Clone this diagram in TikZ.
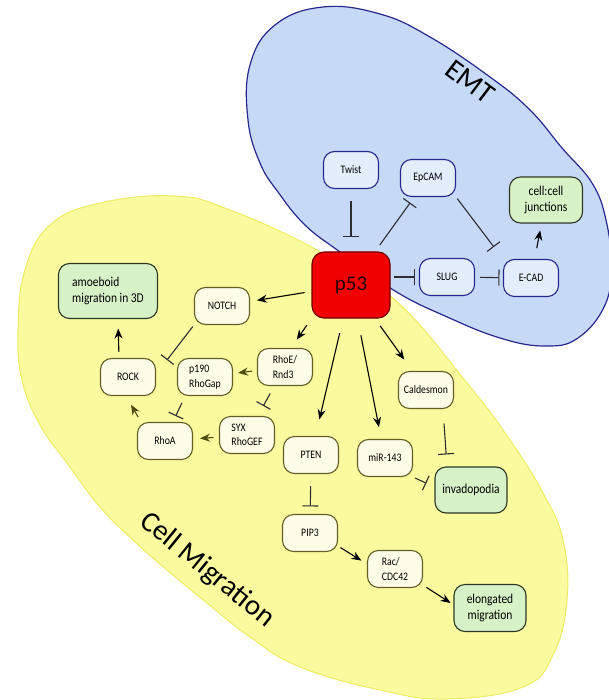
\documentclass[tikz,border=0pt]{standalone}
\usepackage{fontspec}
\setmainfont{Carlito}
\newfontfamily\boxfont[FakeStretch=0.85]{Carlito}
\usetikzlibrary{arrows.meta}

\definecolor{emtfill}{RGB}{198,218,248}
\definecolor{emtline}{RGB}{40,40,140}
\definecolor{emtnode}{RGB}{228,237,252}
\definecolor{migfill}{RGB}{250,250,158}
\definecolor{migline}{RGB}{236,236,100}
\definecolor{mignode}{RGB}{253,253,232}
\definecolor{migedge}{RGB}{100,95,40}
\definecolor{outnode}{RGB}{216,242,200}
\definecolor{outedge}{RGB}{45,55,35}
\definecolor{olivearr}{RGB}{75,75,15}
\definecolor{inhcol}{RGB}{45,45,50}
\definecolor{pred}{RGB}{240,0,0}

\tikzset{
  box/.style={draw, rounded corners=11pt, line width=1.1pt, minimum width=55pt,
    minimum height=37pt, align=center, inner sep=2pt,
    font=\boxfont\fontsize{11.5}{14.5}\selectfont},
  emtbox/.style={box, draw=emtline, fill=emtnode},
  migbox/.style={box, draw=migedge, fill=mignode},
  outbox/.style={box, draw=outedge, fill=outnode, minimum width=72pt,
    minimum height=46pt, font=\boxfont\fontsize{13.5}{16}\selectfont},
  act/.style={-{Stealth[length=10pt,width=8pt]}, line width=1.1pt},
  oact/.style={act, draw=olivearr, fill=olivearr},
  inh/.style={-{Bar[width=16pt]}, line width=1.1pt, draw=inhcol},
  region/.style={font=\fontsize{29}{29}\selectfont},
}

\begin{document}
\begin{tikzpicture}[x=1pt,y=-1pt]
  \useasboundingbox (0,0) rectangle (609,700);

  % regions
  \draw[fill=migfill, draw=migline, line width=1pt] plot[smooth cycle, tension=0.7] coordinates {
    (175,196) (230,210) (317,250) (395,300) (467,383) (510,440) (543,493)
    (563,540) (567,600) (553,655) (523,687) (447,699) (380,690) (300,667)
    (250,637) (207,603) (167,570) (133,540) (100,507) (67,463) (40,425)
    (22,380) (18,330) (25,270) (50,225) (100,203)};
  \draw[fill=emtfill, draw=emtline, line width=1.2pt] plot[smooth cycle, tension=0.7] coordinates {
    (323,7) (380,14) (430,37) (490,77) (530,110) (562,148) (592,183)
    (606,220) (611,265) (605,305) (578,338) (545,346) (500,338) (445,316)
    (395,291) (340,252) (305,225) (278,192) (260,163) (248,120) (250,65)
    (275,25)};

  \node[region, rotate=-37] (emtlabel) at (470,82) {EMT};
  \node[region, rotate=-39] (miglabel) at (207,570) {Cell Migration};

  % nodes
  \node[box, draw=pred!45!black, fill=pred, rounded corners=12pt, minimum width=78pt,
    minimum height=66pt, font=\fontsize{21}{21}\selectfont, text=black!85!red] (p53) at (351,285) {p53};

  \node[emtbox] (Twist) at (351,170) {Twist};
  \node[emtbox] (EpCAM) at (428,178) {EpCAM};
  \node[emtbox] (SLUG) at (447,277) {SLUG};
  \node[emtbox] (ECAD) at (531,278) {E-CAD};
  \node[outbox, minimum width=73pt] (junc) at (546,200) {cell:cell\\junctions};

  \node[outbox, minimum width=99pt, minimum height=55pt, align=left] (amoeboid) at (108,291) {amoeboid\\migration in 3D};
  \node[migbox] (NOTCH) at (222,306) {NOTCH};
  \node[migbox, align=left] (RhoE) at (285,367) {RhoE/\\Rnd3};
  \node[migbox, align=left] (p190) at (205,377) {p190\\RhoGap};
  \node[migbox] (ROCK) at (128,377) {ROCK};
  \node[migbox, align=left] (SYX) at (247,435) {SYX\\RhoGEF};
  \node[migbox] (RhoA) at (165,441) {RhoA};
  \node[migbox] (PTEN) at (311,455) {PTEN};
  \node[migbox] (miR) at (385,458) {miR-143};
  \node[migbox] (Cald) at (426,390) {Caldesmon};
  \node[outbox] (invado) at (471,490) {invadopodia};
  \node[migbox] (PIP3) at (310,533) {PIP3};
  \node[migbox, align=left] (Rac) at (395,569) {Rac/\\CDC42};
  \node[outbox, minimum height=47pt] (elong) at (490,608) {elongated\\migration};

  \coordinate (nbar) at (167,360);

  % EMT side
  \draw[inh, shorten <=12pt, shorten >=14pt] (Twist) -- (p53);
  \draw[inh, shorten <=8pt, shorten >=7pt] (p53) -- (EpCAM);
  \draw[inh, shorten <=2pt, shorten >=15pt] (EpCAM.south east) -- (ECAD.north west);
  \draw[act, shorten <=11pt, shorten >=7pt] (ECAD) -- (junc);
  \draw[inh, shorten <=3pt, shorten >=4pt] (SLUG -| p53.east) -- (SLUG.west);
  \draw[inh, shorten <=5pt, shorten >=3.5pt] (SLUG) -- (ECAD);

  % migration side
  \draw[act, shorten <=7pt, shorten >=7pt] (p53) -- (NOTCH);
  \draw[act, shorten <=8pt, shorten >=10pt] (p53.south west) -- ([xshift=6pt]RhoE.north);
  \draw[act, shorten <=15pt, shorten >=17pt] (p53) -- (PTEN);
  \draw[act, shorten <=17pt, shorten >=12pt] (p53) -- (miR);
  \draw[act, shorten <=9pt, shorten >=14pt] (p53) -- (Cald);
  \draw[inh, shorten <=2pt] (NOTCH.south west) -- (nbar);
  \draw[act, shorten <=6pt, shorten >=9.5pt] ([xshift=-9pt]ROCK.north) -- ([xshift=10pt]amoeboid.south);
  \draw[oact, shorten <=5pt, shorten >=5pt] (RhoE) -- (p190);
  \draw[inh, shorten <=8.5pt, shorten >=11.5pt] (RhoE) -- (SYX);
  \draw[oact, shorten <=5.5pt, shorten >=7pt] (SYX) -- (RhoA);
  \draw[inh, shorten <=7.5pt, shorten >=6.5pt] ([xshift=-20pt]p190.south) -- ([xshift=8pt]RhoA.north);
  \draw[oact, shorten <=5.7pt, shorten >=10pt] ([xshift=-24pt]RhoA.north) -- ([xshift=-2pt]ROCK.south);
  \draw[inh, shorten <=14.5pt, shorten >=12pt] ([xshift=17pt]Cald.south) -- ([xshift=-24pt]invado.north);
  \draw[inh, shorten <=2.3pt, shorten >=9pt] (miR.south east) -- ([yshift=3pt]invado.west);
  \draw[inh, shorten <=12pt, shorten >=7.5pt] (PTEN) -- (PIP3);
  \draw[act, shorten <=2.9pt, shorten >=6.5pt] (PIP3.-25) -- (Rac.170);
  \draw[act, shorten <=4pt, shorten >=3.4pt] (Rac.-30) -- (elong.175);
\end{tikzpicture}
\end{document}
